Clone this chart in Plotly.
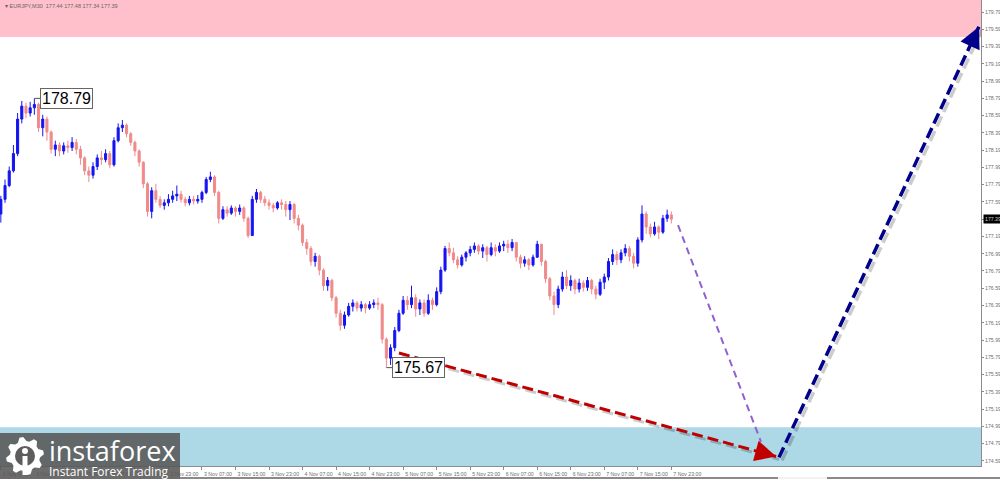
import math
import plotly.graph_objects as go

# ---------------- data ----------------
title_text = "▾ EURJPY,M30  177.44 177.48 177.34 177.39"

# candle times: hours counted from 1 Nov 00:00 (hourly candles)
candle_hours = list(range(7, 168))
first_open = 177.45
close = [177.62, 177.78, 177.95, 178.15, 178.55, 178.70, 178.62, 178.68, 178.72, 178.45,
         178.55, 178.40, 178.20, 178.25, 178.18, 178.24, 178.22, 178.28, 178.20, 178.10,
         177.95, 177.90, 178.00, 178.10, 178.08, 178.15, 178.02, 178.30, 178.45, 178.48,
         178.38, 178.28, 178.18, 178.05, 177.80, 177.48, 177.72, 177.62, 177.55, 177.58,
         177.62, 177.66, 177.68, 177.62, 177.58, 177.62, 177.60, 177.62, 177.70, 177.85,
         177.88, 177.70, 177.40, 177.50, 177.46, 177.52, 177.48, 177.52, 177.40, 177.20,
         177.62, 177.70, 177.62, 177.58, 177.55, 177.52, 177.58, 177.56, 177.50, 177.56,
         177.40, 177.32, 177.12, 177.05, 176.90, 176.96, 176.80, 176.62, 176.68, 176.48,
         176.30, 176.16, 176.28, 176.38, 176.42, 176.36, 176.40, 176.36, 176.40, 176.42,
         176.40, 176.00, 175.78, 175.90, 176.10, 176.30, 176.45, 176.40, 176.48, 176.35,
         176.42, 176.30, 176.45, 176.40, 176.55, 176.80, 177.05, 177.00, 176.92, 176.86,
         176.95, 177.00, 177.04, 177.08, 177.02, 177.06, 176.98, 177.06, 177.02, 177.08,
         177.10, 177.06, 177.12, 176.95, 176.88, 176.92, 176.86, 176.95, 177.10, 176.90,
         176.70, 176.50, 176.40, 176.58, 176.72, 176.62, 176.68, 176.58, 176.65, 176.60,
         176.68, 176.58, 176.52, 176.66, 176.72, 176.90, 176.98, 176.92, 177.00, 177.05,
         176.96, 176.88, 177.15, 177.45, 177.30, 177.22, 177.30, 177.24, 177.40, 177.44,
         177.39]
high = [177.66, 177.85, 178.00, 178.25, 178.62, 178.76, 178.74, 178.75, 178.79, 178.74,
        178.60, 178.58, 178.42, 178.30, 178.28, 178.28, 178.30, 178.34, 178.32, 178.24,
        178.12, 178.00, 178.05, 178.14, 178.18, 178.20, 178.18, 178.34, 178.50, 178.54,
        178.50, 178.40, 178.30, 178.20, 178.06, 177.82, 177.76, 177.80, 177.66, 177.62,
        177.68, 177.72, 177.78, 177.72, 177.65, 177.66, 177.66, 177.67, 177.72, 177.88,
        177.94, 177.90, 177.72, 177.54, 177.54, 177.55, 177.54, 177.56, 177.54, 177.42,
        177.66, 177.74, 177.72, 177.66, 177.62, 177.58, 177.60, 177.62, 177.60, 177.60,
        177.58, 177.44, 177.34, 177.16, 177.08, 177.00, 176.98, 176.82, 176.72, 176.70,
        176.50, 176.34, 176.32, 176.42, 176.46, 176.44, 176.44, 176.42, 176.44, 176.46,
        176.48, 176.42, 176.02, 175.94, 176.14, 176.34, 176.50, 176.50, 176.62, 176.52,
        176.46, 176.46, 176.52, 176.48, 176.60, 176.84, 177.08, 177.12, 177.06, 176.96,
        176.98, 177.02, 177.08, 177.12, 177.10, 177.10, 177.08, 177.12, 177.10, 177.12,
        177.14, 177.15, 177.16, 177.12, 176.98, 176.96, 176.94, 176.98, 177.14, 177.10,
        176.92, 176.72, 176.55, 176.62, 176.78, 176.80, 176.74, 176.70, 176.70, 176.68,
        176.72, 176.70, 176.62, 176.70, 176.76, 176.94, 177.04, 177.02, 177.04, 177.10,
        177.08, 177.00, 177.18, 177.55, 177.48, 177.34, 177.36, 177.32, 177.44, 177.50,
        177.48]
low = [177.35, 177.58, 177.76, 177.93, 178.12, 178.50, 178.56, 178.58, 178.60, 178.40,
       178.35, 178.30, 178.15, 178.12, 178.12, 178.14, 178.16, 178.18, 178.14, 178.02,
       177.90, 177.82, 177.86, 177.96, 178.02, 178.05, 177.98, 178.00, 178.28, 178.40,
       178.34, 178.24, 178.12, 178.00, 177.75, 177.42, 177.40, 177.58, 177.52, 177.50,
       177.54, 177.58, 177.60, 177.58, 177.54, 177.55, 177.56, 177.57, 177.58, 177.68,
       177.82, 177.66, 177.34, 177.38, 177.42, 177.44, 177.42, 177.44, 177.36, 177.17,
       177.20, 177.58, 177.58, 177.54, 177.50, 177.47, 177.50, 177.50, 177.42, 177.38,
       177.34, 177.26, 177.08, 176.98, 176.85, 176.84, 176.74, 176.56, 176.56, 176.44,
       176.25, 176.10, 176.12, 176.26, 176.32, 176.32, 176.32, 176.30, 176.34, 176.36,
       176.34, 175.95, 175.67, 175.70, 175.86, 176.08, 176.28, 176.34, 176.36, 176.26,
       176.28, 176.26, 176.28, 176.34, 176.38, 176.52, 176.78, 176.96, 176.88, 176.82,
       176.84, 176.90, 176.96, 177.00, 176.98, 176.94, 176.90, 176.96, 176.96, 177.00,
       177.02, 177.00, 177.02, 176.90, 176.82, 176.84, 176.80, 176.84, 176.94, 176.85,
       176.65, 176.45, 176.28, 176.36, 176.55, 176.58, 176.56, 176.52, 176.54, 176.55,
       176.56, 176.52, 176.46, 176.50, 176.58, 176.68, 176.86, 176.86, 176.88, 176.96,
       176.90, 176.82, 176.84, 177.12, 177.22, 177.18, 177.20, 177.16, 177.22, 177.36,
       177.34]
open_ = [first_open] + close[:-1]

# x axis labels (hours from 1 Nov 00:00)
x_tick_hours = [7, 15, 23, 31, 39, 47, 55, 63, 71, 79, 87, 95, 103, 111, 119, 127, 135,
                143, 151, 159, 167]
x_tick_text = ["1 Nov 07:00", "1 Nov 15:00", "1 Nov 23:00", "2 Nov 07:00", "2 Nov 15:00",
               "2 Nov 23:00", "3 Nov 07:00", "3 Nov 15:00", "3 Nov 23:00", "4 Nov 07:00",
               "4 Nov 15:00", "4 Nov 23:00", "5 Nov 07:00", "5 Nov 15:00", "5 Nov 23:00",
               "6 Nov 07:00", "6 Nov 15:00", "6 Nov 23:00", "7 Nov 07:00", "7 Nov 15:00",
               "7 Nov 23:00"]
y_tick_vals = [174.59, 174.79, 174.99, 175.19, 175.39, 175.59, 175.79, 175.99, 176.19,
               176.39, 176.59, 176.79, 176.99, 177.19, 177.39, 177.59, 177.79, 177.99,
               178.19, 178.39, 178.59, 178.79, 178.99, 179.19, 179.39, 179.59, 179.79]

# zones, marked extremes and forecast arrows
resist_zone = [179.50, 179.93]
support_zone = [174.53, 174.98]
peak_label = {"hour": 15, "price": 178.79, "text": "178.79"}
trough_label = {"hour": 99, "price": 175.67, "text": "175.67"}
red_arrow = {"h": [102.0, 192.0], "p": [175.84, 174.64]}
purple_line = {"h": [168.6, 188.4], "p": [177.32, 174.81]}
navy_arrow = {"h": [192.7, 240.4], "p": [174.63, 179.62]}
current_price = 177.39

# ---------------- layout geometry ----------------
W, H = 1000, 479
M_L, M_R, M_T, M_B = 0, 19, 0, 13
PW, PH = W - M_L - M_R, H - M_T - M_B
x_range = [6.8, 240.9]
y_range = [174.53, 179.93]
px_per_h = PW / (x_range[1] - x_range[0])
px_per_p = PH / (y_range[1] - y_range[0])
SMALL_FONT = dict(family="Liberation Sans, Arial", size=5.2, color="#6e6e6e")

fig = go.Figure()

fig.add_trace(go.Candlestick(
    x=candle_hours, open=open_, high=high, low=low, close=close,
    increasing=dict(line=dict(color="#1414f0", width=1), fillcolor="#1414f0"),
    decreasing=dict(line=dict(color="#f08a8a", width=1), fillcolor="#f08a8a"),
    whiskerwidth=0, showlegend=False, hoverinfo="skip",
))

shapes = []
shapes.append(dict(type="rect", xref="paper", yref="y", x0=0, x1=1,
                   y0=resist_zone[0], y1=resist_zone[1], fillcolor="#ffc0cb",
                   line=dict(width=0), layer="below"))
shapes.append(dict(type="rect", xref="paper", yref="y", x0=0, x1=1,
                   y0=support_zone[0], y1=support_zone[1], fillcolor="#add8e6",
                   line=dict(width=0), layer="below"))


def dashed(seg, color, width, dash, shadow=True):
    out = []
    if shadow:
        dx = 3 / px_per_h
        dy = -3 / px_per_p
        out.append(dict(type="line", xref="x", yref="y",
                        x0=seg["h"][0] + dx, x1=seg["h"][1] + dx,
                        y0=seg["p"][0] + dy, y1=seg["p"][1] + dy,
                        line=dict(color="rgba(0,0,0,0.2)", width=width, dash=dash)))
    out.append(dict(type="line", xref="x", yref="y",
                    x0=seg["h"][0], x1=seg["h"][1], y0=seg["p"][0], y1=seg["p"][1],
                    line=dict(color=color, width=width, dash=dash)))
    return out


shapes += dashed(purple_line, "#9060d0", 2, "7px,5px", shadow=False)
shapes += dashed(red_arrow, "#c00000", 3, "11px,5px")
shapes += dashed(navy_arrow, "#00008b", 3.5, "11px,5px")

for lab in (peak_label, trough_label):
    shapes.append(dict(type="line", xref="x", yref="y", x0=lab["hour"],
                       x1=lab["hour"] + 6 / px_per_h, y0=lab["price"], y1=lab["price"],
                       line=dict(color="#555", width=1)))


def px_to_paper_x(px):
    return (px - M_L) / PW


def px_to_paper_y(py):
    return (M_T + PH - py) / PH


# logo block and bottom scroll bar
shapes.append(dict(type="rect", xref="paper", yref="paper",
                   x0=px_to_paper_x(0), x1=px_to_paper_x(180),
                   y0=px_to_paper_y(479), y1=px_to_paper_y(433),
                   fillcolor="rgba(88,88,88,0.88)", line=dict(width=0), layer="above"))
shapes.append(dict(type="rect", xref="paper", yref="paper",
                   x0=px_to_paper_x(180), x1=px_to_paper_x(1000),
                   y0=px_to_paper_y(479), y1=px_to_paper_y(477),
                   fillcolor="#8a8a8a", line=dict(width=0), layer="above"))
shapes.append(dict(type="rect", xref="paper", yref="paper",
                   x0=px_to_paper_x(778), x1=px_to_paper_x(827),
                   y0=px_to_paper_y(479), y1=px_to_paper_y(477),
                   fillcolor="#f2f2f2", line=dict(width=0), layer="above"))

# gear icon of the logo (decoration, drawn in pixel units)
teeth, r_out, r_in = 8, 19, 15
pts = []
for k in range(teeth * 4):
    ang = 2 * math.pi * k / (teeth * 4) + math.pi / (teeth * 4)
    r = r_out if (k % 4) in (0, 1) else r_in
    pts.append((r * math.cos(ang), r * math.sin(ang)))
gear_path = "M " + " L ".join(f"{x:.2f},{y:.2f}" for x, y in pts) + " Z"
gear_cx, gear_cy = px_to_paper_x(25), px_to_paper_y(456)
shapes.append(dict(type="path", xref="paper", yref="paper", xsizemode="pixel",
                   ysizemode="pixel", xanchor=gear_cx, yanchor=gear_cy,
                   path=gear_path, fillcolor="#ffffff", line=dict(width=0),
                   layer="above"))
shapes.append(dict(type="circle", xref="paper", yref="paper", xsizemode="pixel",
                   ysizemode="pixel", xanchor=gear_cx, yanchor=gear_cy,
                   x0=-10, x1=10, y0=-10, y1=10, fillcolor="#5d5d5d",
                   line=dict(width=0), layer="above"))
shapes.append(dict(type="circle", xref="paper", yref="paper", xsizemode="pixel",
                   ysizemode="pixel", xanchor=gear_cx, yanchor=gear_cy,
                   x0=-3, x1=3, y0=2, y1=8, fillcolor="#ffffff",
                   line=dict(width=0), layer="above"))
shapes.append(dict(type="rect", xref="paper", yref="paper", xsizemode="pixel",
                   ysizemode="pixel", xanchor=gear_cx, yanchor=gear_cy,
                   x0=-2.5, x1=2.5, y0=-19, y1=0, fillcolor="#ffffff",
                   line=dict(width=0), layer="above"))

annotations = []


def head(seg, color, tail_px=12, size=1.4, width=3):
    dxp = (seg["h"][1] - seg["h"][0]) * px_per_h
    dyp = -(seg["p"][1] - seg["p"][0]) * px_per_p
    L = (dxp ** 2 + dyp ** 2) ** 0.5
    return dict(x=seg["h"][1], y=seg["p"][1], xref="x", yref="y", text="",
                showarrow=True, arrowhead=2, arrowsize=size, arrowwidth=width,
                arrowcolor=color, ax=-dxp / L * tail_px, ay=-dyp / L * tail_px)


annotations.append(head(red_arrow, "#c00000"))
annotations.append(head(navy_arrow, "#00008b"))

for lab in (peak_label, trough_label):
    annotations.append(dict(x=lab["hour"] + 6 / px_per_h, y=lab["price"], xref="x",
                            yref="y", text=lab["text"], showarrow=False,
                            xanchor="left", yanchor="middle",
                            font=dict(family="Liberation Sans, Arial", size=16,
                                      color="#000"),
                            bgcolor="#ffffff", bordercolor="#666", borderwidth=1,
                            borderpad=1))

annotations.append(dict(x=px_to_paper_x(3), y=px_to_paper_y(6), xref="paper",
                        yref="paper", text=title_text, showarrow=False,
                        xanchor="left", yanchor="middle",
                        font=dict(family="Liberation Sans, Arial", size=5.5,
                                  color="#666")))
annotations.append(dict(x=1.0, y=current_price, xref="paper", yref="y",
                        text=f"{current_price:.2f}", showarrow=False, xanchor="left",
                        yanchor="middle", xshift=2, bgcolor="#000",
                        font=dict(family="Liberation Sans, Arial", size=5.2,
                                  color="#d0d0d0"),
                        borderpad=1))
annotations.append(dict(x=px_to_paper_x(47), y=px_to_paper_y(450), xref="paper",
                        yref="paper", text="instaforex", showarrow=False,
                        xanchor="left", yanchor="middle",
                        font=dict(family="Open Sans", size=27, color="#ffffff")))
annotations.append(dict(x=px_to_paper_x(47), y=px_to_paper_y(471), xref="paper",
                        yref="paper", text="Instant Forex Trading", showarrow=False,
                        xanchor="left", yanchor="middle",
                        font=dict(family="Open Sans", size=12, color="#ffffff")))

fig.update_layout(
    width=W, height=H,
    margin=dict(l=M_L, r=M_R, t=M_T, b=M_B, pad=0, autoexpand=False),
    paper_bgcolor="#ffffff", plot_bgcolor="#ffffff",
    showlegend=False,
    shapes=shapes, annotations=annotations,
    xaxis=dict(range=x_range, rangeslider=dict(visible=False), showgrid=False,
               zeroline=False, showline=True, linecolor="#8c8c8c", linewidth=1,
               tickmode="array", tickvals=x_tick_hours, ticktext=x_tick_text,
               tickangle=0, automargin=False,
               ticks="outside", ticklen=3, tickcolor="#8c8c8c",
               ticklabelshift=16, ticklabelstandoff=0, tickfont=SMALL_FONT),
    yaxis=dict(range=y_range, side="right", showgrid=False, zeroline=False,
               showline=True, linecolor="#8c8c8c", linewidth=1, automargin=False,
               tickmode="array", tickvals=y_tick_vals,
               ticktext=[f"{v:.2f}" for v in y_tick_vals],
               ticks="outside", ticklen=2, tickcolor="#8c8c8c",
               tickfont=SMALL_FONT),
)

fig.write_html("out.html",
               config={"displayModeBar": False},
               post_script="document.body.style.margin='0px';"
                           "document.body.style.overflow='hidden';")
